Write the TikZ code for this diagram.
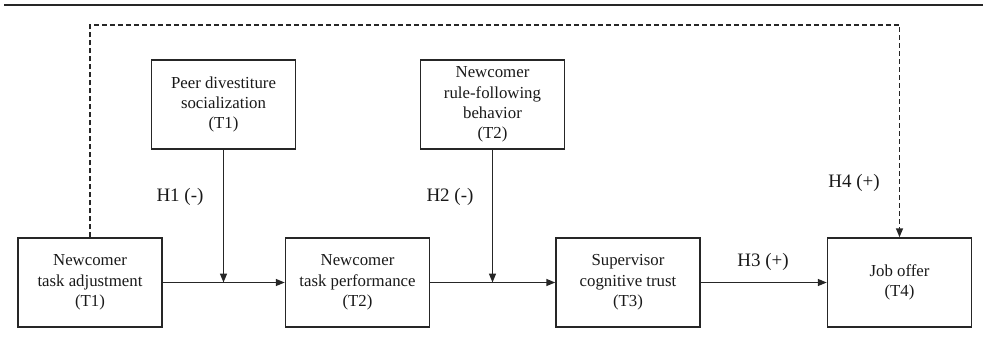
\documentclass[tikz,border=0pt]{standalone}
\usepackage{fontspec}
\setmainfont{Liberation Serif}
\usetikzlibrary{arrows.meta}

\begin{document}
\begin{tikzpicture}
% Research model drawn on a pixel-like grid
\def\unitsz{1pt}
\providecommand{\modelLineColor}{black!85}
\providecommand{\modelTextColor}{black!90}
\providecommand{\modelLineWidth}{1.5pt}
\providecommand{\modelRuleWidth}{2pt}
\begin{scope}[x=\unitsz, y=-\unitsz, line cap=butt, line join=miter,
  box/.style={draw=\modelLineColor, line width=\modelLineWidth, text=\modelTextColor,
    minimum width=144pt, minimum height=89pt, inner sep=0pt, align=center,
    font=\fontsize{16.8}{20.4}\selectfont},
  hyp/.style={text=\modelTextColor, inner sep=0pt, font=\fontsize{19}{22}\selectfont},
  link/.style={draw=\modelLineColor, line width=\modelLineWidth,
    -{Triangle[length=9pt,width=7pt]}},
  dlink/.style={link, dash pattern=on 5pt off 3pt}]
  % Page frame
  \useasboundingbox (0,0) rectangle (983,346);
  % Rule at the top
  \draw[draw=\modelLineColor, line width=\modelRuleWidth] (4,5) -- (983,5);
  % Boxes on the main path
  \node[box] (adj)  at (90,282.5)  {Newcomer\\task adjustment\\(T1)};
  \node[box] (perf) at (357.5,282.5) {Newcomer\\task performance\\(T2)};
  \node[box] (trust) at (628,282.5) {Supervisor\\cognitive trust\\(T3)};
  \node[box] (job)  at (899.5,282.5) {Job offer\\(T4)};
  % Moderators
  \node[box] (peer) at (223.5,104.5) {Peer divestiture\\socialization\\(T1)};
  \node[box] (rule) at (492.5,104.5) {Newcomer\\rule-following\\behavior\\(T2)};
  % Hypothesis labels
  \node[hyp] (h1) at (180,197) {H1 (-)};
  \node[hyp] (h2) at (450,197) {H2 (-)};
  \node[hyp] (h3) at (763,262) {H3 (+)};
  \node[hyp] (h4) at (854,183) {H4 (+)};
  % Main effects
  \draw[link] (adj.east) -- (perf.west);
  \draw[link] (perf.east) -- (trust.west);
  \draw[link] (trust.east) -- (job.west);
  % Moderating effects
  \draw[link] (peer.south) -- (peer.south |- adj.east);
  \draw[link] (rule.south) -- (rule.south |- perf.east);
  % Direct effect over the top
  \coordinate (dtop) at (90,25);
  \draw[dlink] (adj.north) -- (dtop) -| (job.north);
\end{scope}
\end{tikzpicture}
\end{document}
